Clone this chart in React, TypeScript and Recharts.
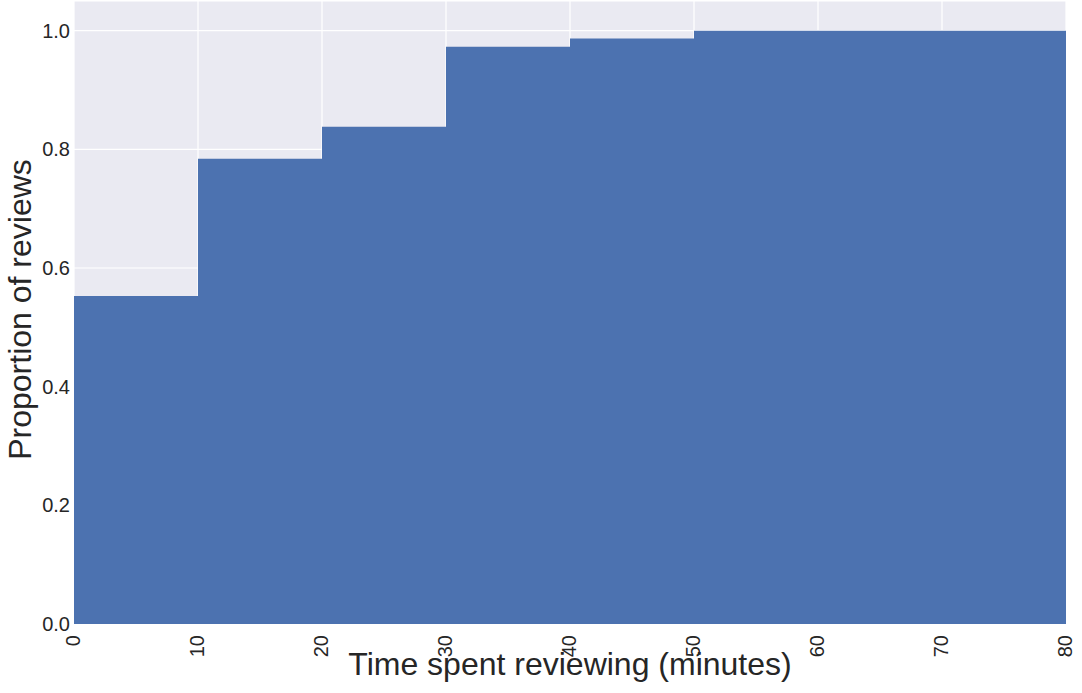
import { Area, AreaChart, CartesianGrid, XAxis, YAxis, Label } from "recharts";

// cumulative share of reviews at each 10-minute bin edge
const binEdges = [0, 10, 20, 30, 40, 50, 60, 70, 80];
const cumulative = [0.553, 0.784, 0.838, 0.973, 0.987, 1.0, 1.0, 1.0, 1.0];
const xTicks = [0, 10, 20, 30, 40, 50, 60, 70, 80];
const yTicks = [0, 0.2, 0.4, 0.6, 0.8, 1.0];

const data = binEdges.map((edge, i) => ({ edge, share: cumulative[i] }));

const FONT = '"Liberation Sans", Arial, sans-serif';
const INK = "#262626";
const BLUE = "#4c72b0";

function XTick(props: any) {
  const { x, y, payload } = props;
  return (
    <text
      x={0}
      y={0}
      transform={`translate(${x - 1},${y + 3}) rotate(-90)`}
      textAnchor="end"
      dominantBaseline="central"
      style={{ fontSize: 20, fontFamily: FONT }}
      fill={INK}
    >
      {payload.value}
    </text>
  );
}

function YTick(props: any) {
  const { x, y, payload } = props;
  return (
    <text
      x={x + 4}
      y={y}
      textAnchor="end"
      dominantBaseline="central"
      style={{ fontSize: 20, fontFamily: FONT }}
      fill={INK}
    >
      {Number(payload.value).toFixed(1)}
    </text>
  );
}

function XTitle(props: any) {
  const { viewBox } = props;
  const cx = viewBox.x + viewBox.width / 2;
  return (
    <text x={cx} y={675} textAnchor="middle" style={{ fontSize: 32, fontFamily: FONT }} fill={INK}>
      Time spent reviewing (minutes)
    </text>
  );
}

function YTitle(props: any) {
  const { viewBox } = props;
  const cy = viewBox.y + viewBox.height / 2;
  return (
    <text
      x={0}
      y={0}
      transform={`translate(31,${cy - 3}) rotate(-90)`}
      textAnchor="middle"
      style={{ fontSize: 32, fontFamily: FONT }}
      fill={INK}
    >
      Proportion of reviews
    </text>
  );
}

export default function App() {
  return (
    <div style={{ position: "fixed", left: 0, top: 0, width: 1082, height: 693, background: "#fff" }}>
      <AreaChart
        width={1082}
        height={693}
        data={data}
        margin={{ top: 1, right: 16, left: 0, bottom: 0 }}
      >
        <CartesianGrid fill="#eaeaf2" stroke="#ffffff" strokeWidth={1.2} />
        <XAxis
          dataKey="edge"
          type="number"
          domain={[0, 80]}
          ticks={xTicks}
          tick={<XTick />}
          tickLine={false}
          axisLine={false}
          height={69}
          interval={0}
        >
          <Label content={<XTitle />} />
        </XAxis>
        <YAxis
          type="number"
          domain={[0, 1.05]}
          ticks={yTicks}
          tick={<YTick />}
          tickLine={false}
          axisLine={false}
          tickMargin={2}
          width={74}
        >
          <Label content={<YTitle />} />
        </YAxis>
        <Area
          type="stepAfter"
          dataKey="share"
          stroke="none"
          fill={BLUE}
          fillOpacity={1}
          isAnimationActive={false}
          dot={false}
          activeDot={false}
        />
      </AreaChart>
    </div>
  );
}
